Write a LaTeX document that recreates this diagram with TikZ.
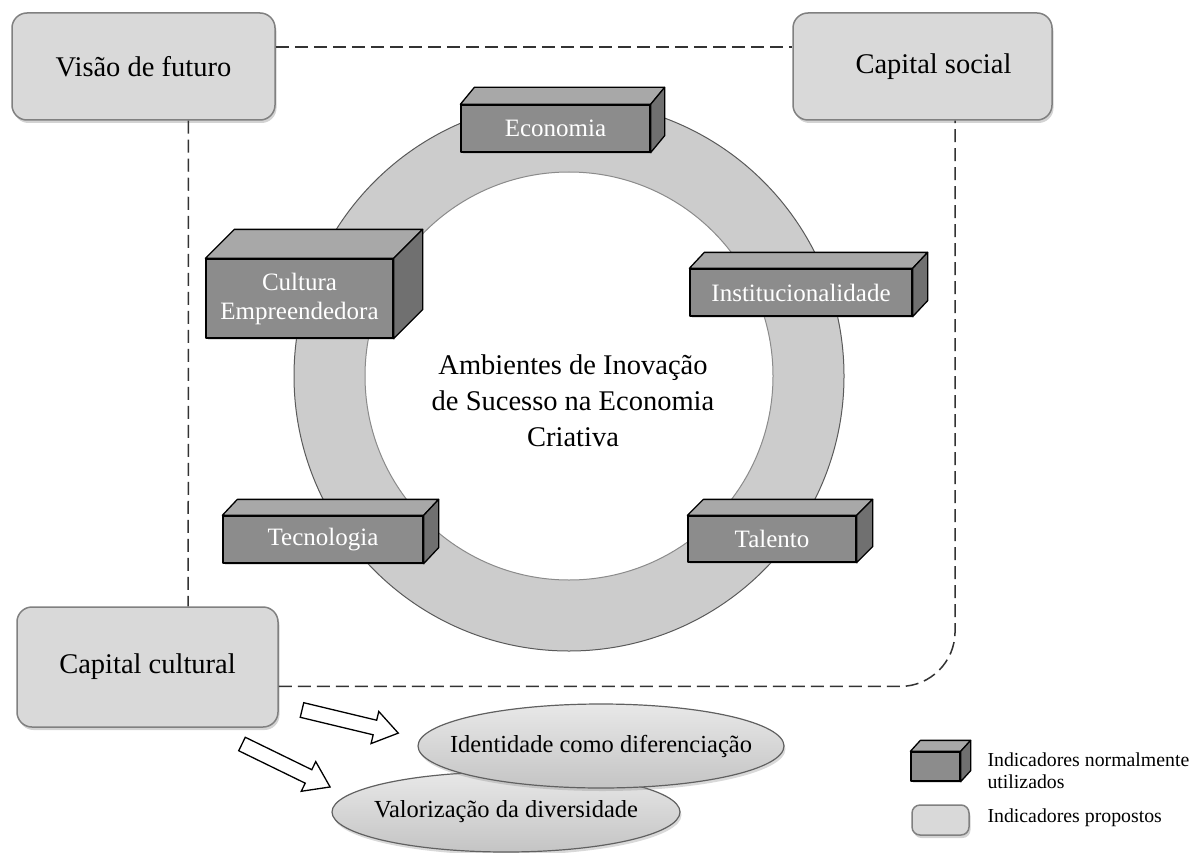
\documentclass[tikz,border=0pt]{standalone}
\usepackage{fontspec}
\setmainfont{Liberation Serif}
\usetikzlibrary{calc,shadows,shapes.geometric}
\definecolor{propfill}{HTML}{D9D9D9}
\definecolor{propdraw}{HTML}{808080}
\definecolor{frontc}{HTML}{8C8C8C}
\definecolor{topc}{HTML}{A8A8A8}
\definecolor{sidec}{HTML}{707070}
\definecolor{ringc}{HTML}{CCCCCC}
\definecolor{ringline}{HTML}{5A5A5A}
\definecolor{ovaltop}{HTML}{E8E8E8}
\definecolor{ovalbot}{HTML}{C4C4C4}
\newcommand\threeD[3]{%
  \draw[cubeface, fill=topc] (#1.north west) -- ++(#2,#3) -- ($(#1.north east)+(#2,#3)$) -- (#1.north east) -- cycle;
  \draw[cubeface, fill=sidec] (#1.north east) -- ++(#2,#3) -- ($(#1.south east)+(#2,#3)$) -- (#1.south east) -- cycle;}
\tikzset{
  prop/.style={draw=propdraw, line width=1.5pt, fill=propfill, rounded corners=15pt, inner sep=0pt,
    drop shadow={opacity=0.35, shadow xshift=1.5pt, shadow yshift=-3pt},
    font=\fontsize{28.5}{34}\selectfont},
  cube/.style={draw=black, line width=1.3pt, fill=frontc, text=white, inner sep=0pt, align=center,
    line join=round, drop shadow={opacity=0.25, shadow xshift=1.5pt, shadow yshift=-2pt},
    font=\fontsize{25}{29}\selectfont},
  cubeface/.style={draw=black, line width=1.3pt, line join=round},
  oval/.style={ellipse, draw=gray!75!black, line width=1.2pt, top color=ovaltop, bottom color=ovalbot,
    inner sep=0pt, drop shadow={opacity=0.3, shadow xshift=1.5pt, shadow yshift=-3pt}},
  ovaltext/.style={inner sep=0pt, font=\fontsize{24.5}{29}\selectfont},
  dashline/.style={draw=black!80, line width=1.5pt, dash pattern=on 13pt off 6pt},
  hollow/.style={draw=black, fill=white, line width=1.3pt, line join=miter}
}
\begin{document}
\begin{tikzpicture}[x=1pt, y=-1pt]
\useasboundingbox (0,0) rectangle (1190,853);

% ring
\coordinate (rc) at (569,376);
\fill[ringc, even odd rule] (rc) circle[radius=275] (rc) circle[radius=204];
\draw[ringline, line width=1pt] (rc) circle[radius=275];
\draw[ringline!70, line width=1pt] (rc) circle[radius=204];

% proposed indicator boxes
\node[prop, minimum width=263pt, minimum height=107pt] (vf) at (143.5,66.5) {Visão de futuro};
\node[prop, minimum width=259pt, minimum height=107pt] (cs) at (922.5,66.5) {\hspace*{22pt}Capital social};
\node[prop, minimum width=261pt, minimum height=120pt] (cc) at (147.5,667) {Capital cultural};

% dashed frame
\draw[dashline] ($(vf.north east)!0.32!(vf.south east)$) -- ($(cs.north west)!0.32!(cs.south west)$);
\draw[dashline] ($(vf.south west)!0.67!(vf.south east)$) -- ($(cc.north west)!0.655!(cc.north east)$);
\draw[dashline, rounded corners=55pt] ($(cc.north east)!0.66!(cc.south east)$) -| ($(cs.south west)!0.625!(cs.south east)$);

% central text
\node[align=center, font=\fontsize{28.5}{36}\selectfont] (title) at (573,401) {Ambientes de Inovação\\de Sucesso na Economia\\Criativa};

% 3D indicator boxes
\node[cube, minimum width=189pt, minimum height=47pt] (eco) at (555.5,128.5) {Economia};
\threeD{eco}{14}{-17}
\node[cube, minimum width=187pt, minimum height=79pt] (cult) at (299.5,298.5) {Cultura\\Empreendedora};
\threeD{cult}{29}{-29}
\node[cube, minimum width=222pt, minimum height=47pt] (inst) at (801,292.5) {Institucionalidade};
\threeD{inst}{15}{-16}
\node[cube, minimum width=200pt, minimum height=47pt] (tec) at (323,539.5) {Tecnologia};
\threeD{tec}{15}{-16}
\node[cube, minimum width=168pt, minimum height=46pt] (tal) at (772,539) {Talento};
\threeD{tal}{16}{-16}

% ellipses
\node[oval, minimum width=348pt, minimum height=80pt] (val) at (506,812) {};
\node[ovaltext] (valt) at (val.center) {Valorização da diversidade};
\node[oval, minimum width=366pt, minimum height=84pt] (ide) at (601,746) {};
\node[ovaltext] (idet) at (ide.center) {Identidade como diferenciação};

% hollow arrows
\begin{scope}[shift={(302,710)}, rotate=-13.5]
  \draw[hollow] (0,-7.5) -- (75,-7.5) -- (75,-16.5) -- (99,0) -- (75,16.5) -- (75,7.5) -- (0,7.5) -- cycle;
\end{scope}
\begin{scope}[shift={(242,744)}, rotate=-26]
  \draw[hollow] (0,-7.5) -- (74,-7.5) -- (74,-16.5) -- (98,0) -- (74,16.5) -- (74,7.5) -- (0,7.5) -- cycle;
\end{scope}

% legend
\node[cube, minimum width=49pt, minimum height=29pt] (lcube) at (935.5,766.5) {};
\threeD{lcube}{10}{-11}
\node[prop, rounded corners=8pt, minimum width=57pt, minimum height=30pt] (lprop) at (940.5,820) {};
\node[anchor=west, align=left, font=\fontsize{19.8}{22}\selectfont] (lt1) at (984,771) {Indicadores normalmente\\utilizados};
\node[anchor=west, font=\fontsize{19.8}{22}\selectfont] (lt2) at (984,818) {Indicadores propostos};
\end{tikzpicture}
\end{document}
